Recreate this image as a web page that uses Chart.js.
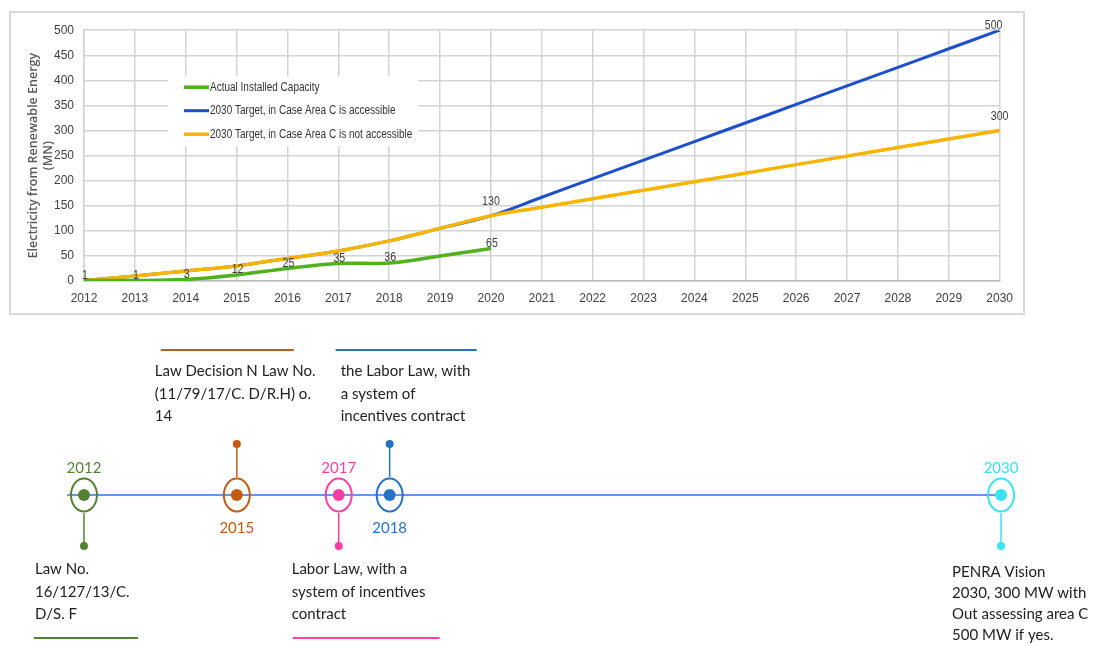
<!DOCTYPE html>
<html>
<head>
<meta charset="utf-8">
<script src="https://cdn.jsdelivr.net/npm/chart.js@4.4.0/dist/chart.umd.min.js"></script>
<style>
  html, body { margin: 0; padding: 0; background: #fff; }
  body { width: 1097px; height: 646px; position: relative; overflow: hidden; }
  #chartBox { position: absolute; left: 9px; top: 11px; width: 1016px; height: 304px; border: 2px solid #d9d9d9; box-sizing: border-box; }
  #timelineBox { position: absolute; left: 0; top: 318px; width: 1097px; height: 328px; }
  canvas { display: block; }
</style>
</head>
<body>
<div id="chartBox"><canvas id="chart" width="1012" height="300"></canvas></div>
<div id="timelineBox"><canvas id="timeline" width="1097" height="328"></canvas></div>
<script>
// chart data
const years = ["2012", "2013", "2014", "2015", "2016", "2017", "2018", "2019", "2020", "2021",
  "2022", "2023", "2024", "2025", "2026", "2027", "2028", "2029", "2030"];
const actualCapacity = [1, 1, 3, 12, 25, 35, 36, 50, 65];
const targetAccessible = [1, 10, 20, 30, 45, 60, 80, 105, 130, 167, 204, 241, 278, 315, 352, 389, 426, 463, 500];
const targetNotAccessible = [1, 10, 20, 30, 45, 60, 80, 105, 130, 147, 164, 181, 198, 215, 232, 249, 266, 283, 300];
const seriesNames = ["Actual Installed Capacity", "2030 Target, in Case Area C is accessible", "2030 Target, in Case Area C is not accessible"];
const yMax = 500;
const yStep = 50;

// which points carry a value label
const actualLabelIdx = [0, 1, 2, 3, 4, 5, 6, 8];
const accessibleLabelIdx = [18];
const notAccessibleLabelIdx = [8, 18];

// timeline data
const milestoneYears = [2012, 2015, 2017, 2018, 2030];
const milestoneSide = ["below", "above", "below", "above", "below"];
const milestoneNotes = [
  ["Law No.", "16/127/13/C.", "D/S. F"],
  ["Law Decision N Law No.", "(11/79/17/C. D/R.H) o.", "14"],
  ["Labor Law, with a", "system of incentives", "contract"],
  ["the Labor Law, with", "a system of", "incentives contract"],
  ["PENRA Vision", "2030, 300 MW with", "Out assessing area C", "500 MW if yes."]
];
const milestoneColors = ["#548235", "#c55a11", "#ff3ea5", "#2473c4", "#38e3f2"];
// text offsets (px) relative to the milestone
const noteLayout = [
  { dx: -49, first: 79, lh: 22.5, rule: [-50, 54] },
  { dx: -82, first: -119, lh: 22.5, rule: [-76, 57] },
  { dx: -47, first: 79, lh: 22.5, rule: [-46, 101] },
  { dx: -49, first: -119, lh: 22.5, rule: [-54, 87] },
  { dx: -49, first: 82, lh: 21, rule: null }
];

const sans = '"Liberation Sans", Arial, sans-serif';

// condensed-looking text (the source uses a narrow office font)
function narrowText(ctx, txt, x, y, align, squeeze) {
  ctx.save();
  ctx.translate(x, y);
  ctx.scale(squeeze, 1);
  ctx.textAlign = align;
  ctx.fillText(txt, 0, 0);
  ctx.restore();
}

const pointLabels = {
  id: "pointLabels",
  afterDatasetsDraw(chart) {
    const ctx = chart.ctx;
    const sets = [
      { ds: 0, idx: actualLabelIdx, dy: 5, dx: 1 },
      { ds: 1, idx: accessibleLabelIdx, dy: 5, dx: -6 },
      { ds: 2, idx: notAccessibleLabelIdx, dy: 14, dx: 0 }
    ];
    ctx.save();
    ctx.font = "12.5px " + sans;
    ctx.fillStyle = "#404040";
    ctx.textBaseline = "middle";
    sets.forEach((s) => {
      const meta = chart.getDatasetMeta(s.ds);
      const values = chart.data.datasets[s.ds].data;
      s.idx.forEach((i) => {
        const pt = meta.data[i];
        if (!pt) return;
        narrowText(ctx, String(values[i]), pt.x + s.dx, pt.y - s.dy, "center", 0.85);
      });
    });
    ctx.restore();
  }
};

const insideLegend = {
  id: "insideLegend",
  afterDatasetsDraw(chart) {
    const { ctx, chartArea } = chart;
    const left = chartArea.left + 84;
    const top = chartArea.top + 46;
    ctx.save();
    ctx.fillStyle = "#fff";
    ctx.fillRect(left, top, 250, 70);
    chart.data.datasets.forEach((ds, i) => {
      const y = top + 11 + i * 23.5;
      ctx.strokeStyle = ds.borderColor;
      ctx.lineWidth = ds.borderWidth;
      ctx.beginPath();
      ctx.moveTo(left + 16, y);
      ctx.lineTo(left + 41, y);
      ctx.stroke();
      ctx.fillStyle = "#333";
      ctx.font = "12.5px " + sans;
      ctx.textBaseline = "middle";
      narrowText(ctx, ds.label, left + 42, y, "left", 0.8);
    });
    ctx.restore();
  }
};

new Chart(document.getElementById("chart"), {
  type: "line",
  data: {
    labels: years,
    datasets: [
      { label: seriesNames[0], data: actualCapacity, borderColor: "#52b11d", borderWidth: 3.5, tension: 0.35, pointRadius: 0, order: 0 },
      { label: seriesNames[1], data: targetAccessible, borderColor: "#1c4fca", borderWidth: 3, tension: 0.35, pointRadius: 0, order: 2 },
      { label: seriesNames[2], data: targetNotAccessible, borderColor: "#f7b500", borderWidth: 3.5, tension: 0.35, pointRadius: 0, order: 1 }
    ]
  },
  options: {
    responsive: false,
    animation: false,
    devicePixelRatio: 1,
    layout: { padding: { top: 14, right: 22, left: 0, bottom: 0 } },
    plugins: { legend: { display: false }, tooltip: { enabled: false } },
    scales: {
      x: {
        grid: { color: "#d3d3d3", lineWidth: 1.5, drawTicks: false },
        border: { color: "#bdbdbd", width: 1.5 },
        ticks: { font: { family: sans, size: 12 }, color: "#404040", padding: 10, maxRotation: 0, autoSkip: false },
        afterFit(s) { s.height = 32; }
      },
      y: {
        min: 0,
        max: yMax,
        grid: { color: "#d3d3d3", lineWidth: 1.5, drawTicks: false },
        border: { color: "#d3d3d3", width: 1.5 },
        ticks: { stepSize: yStep, font: { family: sans, size: 12 }, color: "#404040", padding: 10 },
        title: {
          display: true,
          text: ["Electricity from Renewable Energy", "(MN)"],
          font: { family: '"Open Sans", sans-serif', size: 12.5, weight: "600", lineHeight: "15px" },
          color: "#595959",
          padding: { top: 14.5, bottom: 0 }
        },
        afterFit(s) { s.width = 73; }
      }
    }
  },
  plugins: [pointLabels, insideLegend]
});

// timeline below the chart
const timelinePlugin = {
  id: "timelineMarks",
  afterDatasetsDraw(chart) {
    const ctx = chart.ctx;
    const xs = chart.scales.x;
    const ys = chart.scales.y;
    const cy = ys.getPixelForValue(0);
    ctx.save();
    milestoneYears.forEach((yr, i) => {
      const cx = xs.getPixelForValue(yr);
      const col = milestoneColors[i];
      const above = milestoneSide[i] === "above";
      const dir = above ? -1 : 1;
      const endY = ys.getPixelForValue(above ? 1 : -1);

      ctx.strokeStyle = col;
      ctx.fillStyle = col;
      ctx.lineWidth = 1.5;
      ctx.beginPath();
      ctx.moveTo(cx, cy + dir * 18);
      ctx.lineTo(cx, endY);
      ctx.stroke();
      ctx.beginPath();
      ctx.arc(cx, endY, 4, 0, Math.PI * 2);
      ctx.fill();

      ctx.lineWidth = 2;
      ctx.beginPath();
      ctx.ellipse(cx, cy, 13, 16.5, 0, 0, Math.PI * 2);
      ctx.stroke();
      ctx.beginPath();
      ctx.arc(cx, cy, 6, 0, Math.PI * 2);
      ctx.fill();

      ctx.font = '15px Lato, "Open Sans", sans-serif';
      ctx.textAlign = "center";
      ctx.textBaseline = "alphabetic";
      ctx.fillText(String(yr), cx, above ? cy + 38 : cy - 22);

      const lay = noteLayout[i];
      ctx.fillStyle = "#222";
      ctx.textAlign = "left";
      milestoneNotes[i].forEach((line, k) => {
        ctx.fillText(line, cx + lay.dx, cy + lay.first + k * lay.lh);
      });
      if (lay.rule) {
        const ry = above ? cy - 145 : cy + 143;
        ctx.strokeStyle = col;
        ctx.lineWidth = 2;
        ctx.beginPath();
        ctx.moveTo(cx + lay.rule[0], ry);
        ctx.lineTo(cx + lay.rule[1], ry);
        ctx.stroke();
      }
    });
    ctx.restore();
  }
};

new Chart(document.getElementById("timeline"), {
  type: "scatter",
  data: {
    datasets: [
      {
        type: "line",
        data: [{ x: 2011.67, y: 0 }, { x: milestoneYears[milestoneYears.length - 1], y: 0 }],
        borderColor: "#6695e3",
        borderWidth: 2,
        pointRadius: 0
      },
      {
        data: milestoneYears.map((yr) => ({ x: yr, y: 0 })),
        pointRadius: 0
      }
    ]
  },
  options: {
    responsive: false,
    animation: false,
    devicePixelRatio: 1,
    layout: { padding: { left: 58.5, right: 70.5, top: 126, bottom: 100 } },
    plugins: { legend: { display: false }, tooltip: { enabled: false } },
    scales: {
      x: { type: "linear", min: 2011.5, max: 2030.5, display: false },
      y: { min: -1, max: 1, display: false }
    }
  },
  plugins: [timelinePlugin]
});
</script>
</body>
</html>
